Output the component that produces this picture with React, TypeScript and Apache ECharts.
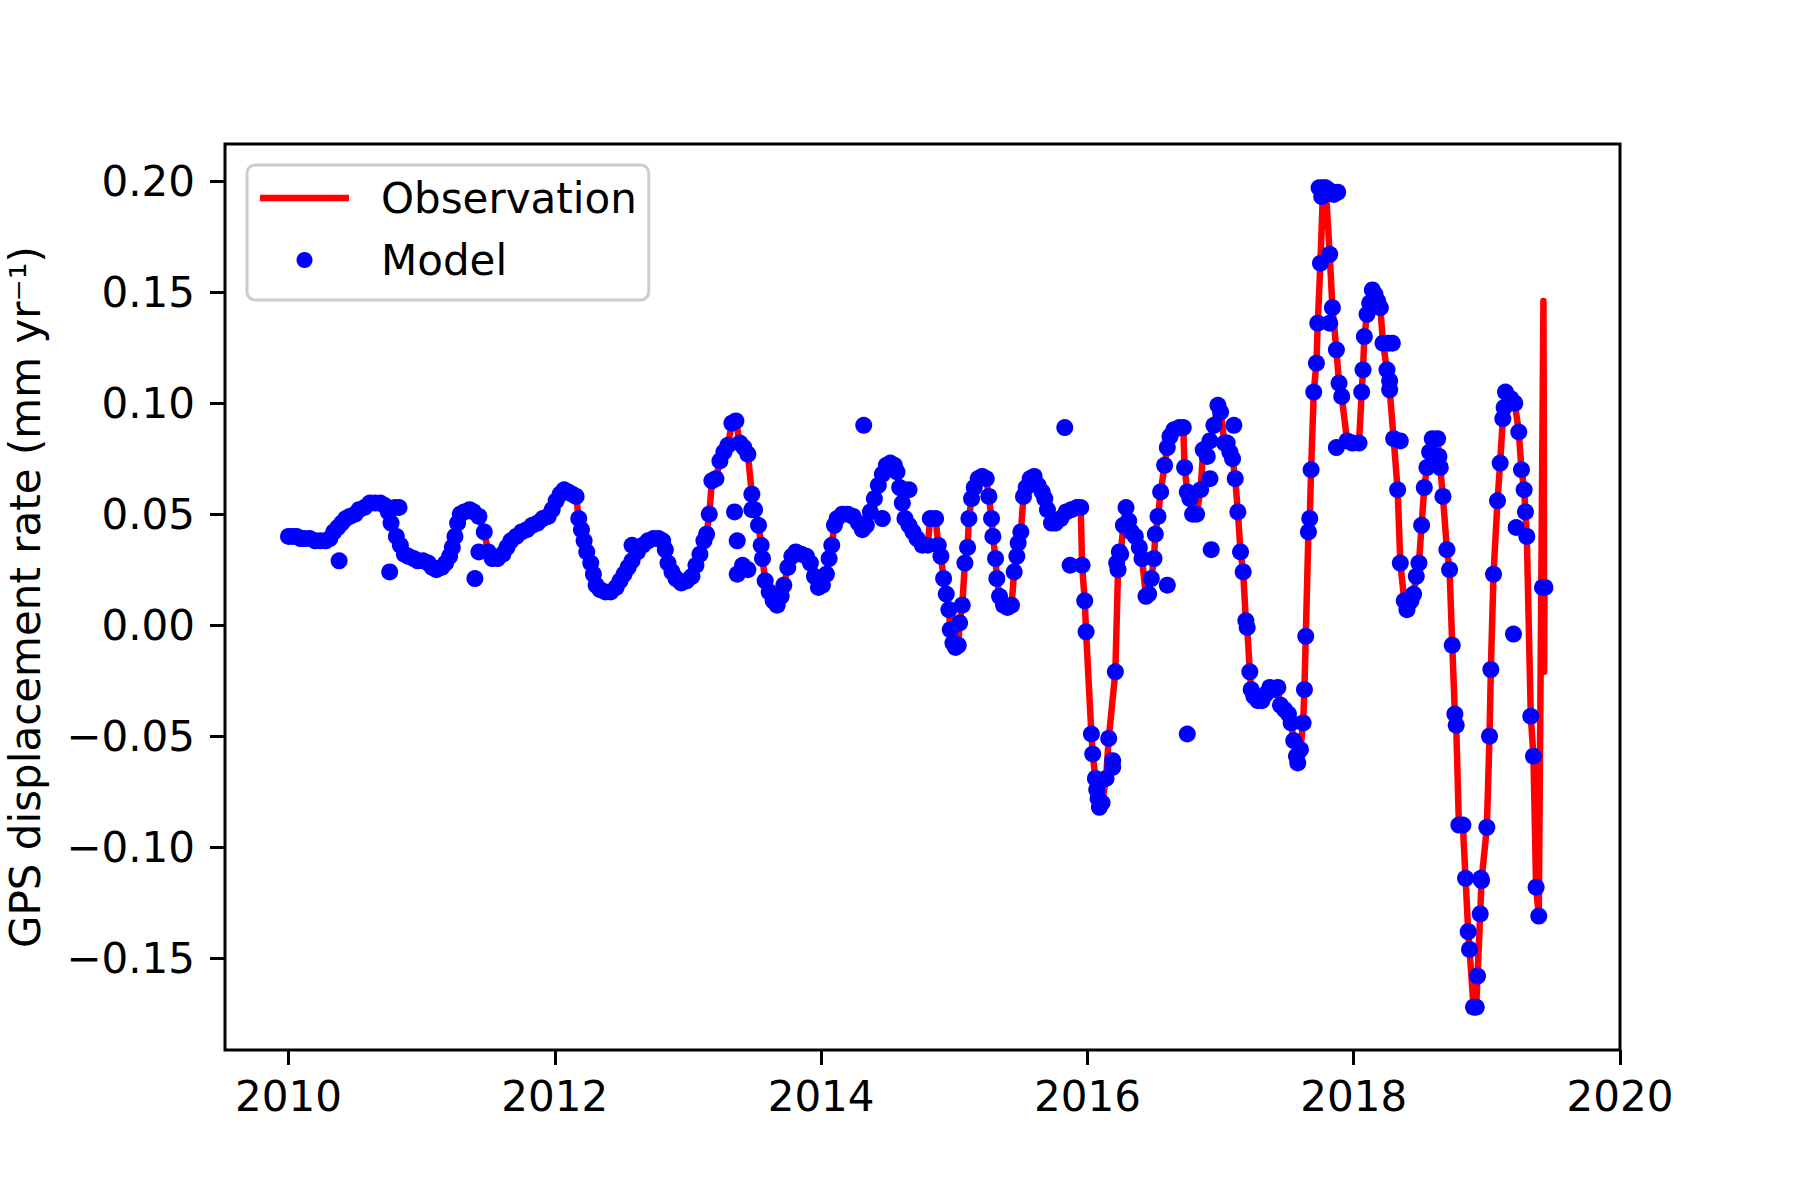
import React, { useEffect, useRef } from "react";
import * as echarts from "echarts";

// Points where the observation line and the model dots coincide: [decimal year, rate]
const shared2010 = [[2010.00,0.040],[2010.03,0.040],[2010.06,0.040],[2010.09,0.039],[2010.12,0.039],[2010.16,0.039],[2010.20,0.038],[2010.24,0.038],[2010.28,0.038],[2010.31,0.039],[2010.34,0.042],[2010.37,0.044],[2010.40,0.046],[2010.43,0.048],[2010.46,0.049],[2010.50,0.050],[2010.53,0.052],[2010.57,0.053],[2010.61,0.055],[2010.65,0.055],[2010.69,0.055],[2010.72,0.054],[2010.75,0.051],[2010.77,0.046],[2010.81,0.040],[2010.84,0.036],[2010.87,0.032],[2010.90,0.031],[2010.94,0.030],[2010.97,0.029]];
const shared2011 = [[2011.01,0.029],[2011.05,0.028],[2011.08,0.026],[2011.11,0.025],[2011.15,0.026],[2011.18,0.028],[2011.21,0.031],[2011.23,0.035],[2011.25,0.040],[2011.27,0.046],[2011.29,0.050],[2011.32,0.051],[2011.36,0.052],[2011.39,0.051],[2011.43,0.049],[2011.47,0.042],[2011.50,0.033],[2011.53,0.030],[2011.57,0.030],[2011.61,0.032],[2011.64,0.035],[2011.67,0.038],[2011.71,0.040],[2011.75,0.042],[2011.79,0.043],[2011.83,0.045],[2011.87,0.046],[2011.91,0.048],[2011.95,0.049],[2011.98,0.052]];
const shared2012 = [[2012.01,0.056],[2012.04,0.059],[2012.07,0.061],[2012.10,0.060],[2012.13,0.059],[2012.16,0.058],[2012.18,0.048],[2012.20,0.043],[2012.22,0.038],[2012.24,0.033],[2012.27,0.028],[2012.29,0.023],[2012.31,0.018],[2012.34,0.016],[2012.38,0.015],[2012.42,0.015],[2012.46,0.017],[2012.49,0.020],[2012.52,0.023],[2012.55,0.026],[2012.58,0.029],[2012.62,0.033],[2012.66,0.036],[2012.70,0.038],[2012.74,0.039],[2012.78,0.039],[2012.81,0.038],[2012.83,0.034],[2012.85,0.028],[2012.88,0.024],[2012.91,0.021],[2012.95,0.019],[2012.99,0.020]];
const shared2013 = [[2013.03,0.022],[2013.06,0.027],[2013.09,0.032],[2013.12,0.038],[2013.14,0.041],[2013.16,0.050],[2013.18,0.065],[2013.21,0.066],[2013.24,0.074],[2013.27,0.078],[2013.30,0.081],[2013.33,0.091],[2013.36,0.092],[2013.39,0.082],[2013.42,0.080],[2013.45,0.077],[2013.48,0.059],[2013.50,0.052],[2013.53,0.045],[2013.55,0.036],[2013.56,0.030],[2013.58,0.020],[2013.61,0.015],[2013.64,0.011],[2013.67,0.009],[2013.70,0.013],[2013.72,0.018],[2013.75,0.026],[2013.78,0.031],[2013.81,0.033],[2013.85,0.032],[2013.89,0.031],[2013.92,0.028],[2013.95,0.022],[2013.98,0.017]];
const shared2014 = [[2014.01,0.018],[2014.04,0.023],[2014.06,0.030],[2014.08,0.036],[2014.10,0.045],[2014.12,0.048],[2014.16,0.050],[2014.20,0.050],[2014.24,0.049],[2014.28,0.046],[2014.31,0.043],[2014.34,0.045],[2014.37,0.051],[2014.40,0.057],[2014.43,0.063],[2014.46,0.068],[2014.49,0.072],[2014.52,0.073],[2014.55,0.072],[2014.57,0.069],[2014.59,0.062],[2014.61,0.055],[2014.63,0.048],[2014.66,0.045],[2014.69,0.042],[2014.72,0.039],[2014.76,0.036],[2014.80,0.036],[2014.82,0.048],[2014.86,0.048],[2014.88,0.036],[2014.90,0.031],[2014.92,0.021],[2014.94,0.014],[2014.96,0.007],[2014.97,-0.002],[2014.99,-0.008]];
const shared2015 = [[2015.01,-0.010],[2015.03,-0.009],[2015.04,0.001],[2015.06,0.009],[2015.08,0.028],[2015.10,0.035],[2015.11,0.048],[2015.13,0.057],[2015.15,0.062],[2015.18,0.066],[2015.21,0.067],[2015.24,0.066],[2015.26,0.058],[2015.28,0.048],[2015.29,0.040],[2015.31,0.030],[2015.32,0.021],[2015.34,0.013],[2015.37,0.009],[2015.40,0.008],[2015.43,0.009],[2015.45,0.024],[2015.47,0.031],[2015.48,0.037],[2015.50,0.042],[2015.52,0.058],[2015.54,0.062],[2015.57,0.066],[2015.60,0.067],[2015.63,0.063],[2015.66,0.060],[2015.68,0.057],[2015.70,0.052],[2015.73,0.046],[2015.76,0.046],[2015.80,0.048],[2015.84,0.051],[2015.88,0.052],[2015.92,0.053],[2015.95,0.053],[2015.96,0.027],[2015.98,0.011],[2015.99,-0.003]];
const shared2016 = [[2016.03,-0.049],[2016.04,-0.058],[2016.06,-0.069],[2016.07,-0.074],[2016.08,-0.078],[2016.09,-0.082],[2016.11,-0.080],[2016.14,-0.069],[2016.16,-0.051],[2016.21,-0.021],[2016.23,0.025],[2016.25,0.032],[2016.27,0.045],[2016.29,0.053],[2016.31,0.047],[2016.33,0.042],[2016.36,0.040],[2016.39,0.035],[2016.41,0.030],[2016.44,0.013],[2016.46,0.014],[2016.48,0.021],[2016.50,0.030],[2016.51,0.041],[2016.53,0.049],[2016.55,0.060],[2016.58,0.072],[2016.60,0.080],[2016.62,0.085],[2016.65,0.088],[2016.69,0.089],[2016.72,0.089],[2016.73,0.071],[2016.75,0.060],[2016.77,0.057],[2016.79,0.050],[2016.82,0.050],[2016.85,0.061],[2016.87,0.079],[2016.90,0.076],[2016.92,0.083],[2016.95,0.090],[2016.98,0.099],[2017.00,0.096]];
const shared2017 = [[2017.03,0.082],[2017.05,0.082],[2017.07,0.078],[2017.09,0.075],[2017.11,0.066],[2017.13,0.051],[2017.15,0.033],[2017.17,0.024],[2017.19,0.002],[2017.20,-0.001],[2017.22,-0.021],[2017.23,-0.029],[2017.25,-0.032],[2017.28,-0.034],[2017.31,-0.034],[2017.34,-0.031],[2017.37,-0.028],[2017.40,-0.029],[2017.43,-0.028],[2017.45,-0.036],[2017.48,-0.038],[2017.51,-0.040],[2017.53,-0.044],[2017.55,-0.052],[2017.57,-0.059],[2017.58,-0.062],[2017.60,-0.056],[2017.62,-0.044],[2017.63,-0.029],[2017.64,-0.005],[2017.66,0.042],[2017.67,0.048],[2017.68,0.070],[2017.70,0.105],[2017.72,0.118],[2017.73,0.136],[2017.75,0.163],[2017.77,0.197],[2017.79,0.197],[2017.82,0.167],[2017.84,0.143],[2017.87,0.124],[2017.89,0.109],[2017.91,0.103],[2017.95,0.083],[2017.99,0.082]];
const shared2018 = [[2018.04,0.082],[2018.06,0.105],[2018.07,0.115],[2018.08,0.130],[2018.10,0.140],[2018.12,0.145],[2018.14,0.151],[2018.16,0.149],[2018.18,0.146],[2018.20,0.143],[2018.22,0.127],[2018.25,0.115],[2018.27,0.106],[2018.30,0.084],[2018.33,0.061],[2018.35,0.028],[2018.38,0.011],[2018.40,0.007],[2018.43,0.011],[2018.45,0.014],[2018.47,0.022],[2018.49,0.028],[2018.51,0.045],[2018.53,0.062],[2018.55,0.071],[2018.57,0.078],[2018.59,0.084],[2018.63,0.084],[2018.64,0.076],[2018.65,0.071],[2018.67,0.058],[2018.70,0.034],[2018.72,0.025],[2018.74,-0.009],[2018.76,-0.040],[2018.77,-0.045],[2018.79,-0.090],[2018.82,-0.090],[2018.84,-0.114],[2018.86,-0.138],[2018.87,-0.146],[2018.90,-0.172],[2018.92,-0.172],[2018.93,-0.158],[2018.95,-0.130],[2018.96,-0.115],[2019.00,-0.091]];
const shared2019 = [[2019.02,-0.050],[2019.03,-0.020],[2019.05,0.023],[2019.08,0.056],[2019.10,0.073],[2019.12,0.093],[2019.13,0.098],[2019.14,0.105],[2019.18,0.102],[2019.21,0.100],[2019.24,0.087],[2019.26,0.070],[2019.28,0.061],[2019.29,0.051],[2019.30,0.040],[2019.33,-0.041],[2019.35,-0.059],[2019.37,-0.118],[2019.39,-0.131]];

// Observation-only points at the end of the record
const observationTail = [[2019.425,0.146],[2019.428,0.089],[2019.430,-0.021],[2019.433,0.017]];

// Model dots that sit off the observation line
const modelOffLine = [[2010.38,0.029],[2010.76,0.024],[2010.80,0.053],[2010.83,0.053],[2011.40,0.021],[2011.43,0.033],[2012.58,0.036],[2013.35,0.051],[2013.37,0.038],[2013.37,0.023],[2013.41,0.027],[2013.45,0.025],[2013.48,0.052],[2014.32,0.090],[2014.46,0.048],[2014.62,0.061],[2014.66,0.061],[2015.83,0.089],[2015.87,0.027],[2016.19,-0.061],[2016.19,-0.064],[2016.22,0.028],[2016.24,0.033],[2016.60,0.018],[2016.75,-0.049],[2016.92,0.066],[2016.93,0.034],[2017.10,0.090],[2017.74,0.197],[2017.76,0.193],[2017.81,0.196],[2017.85,0.194],[2017.88,0.195],[2017.82,0.136],[2017.87,0.080],[2018.26,0.127],[2018.29,0.127],[2018.27,0.110],[2018.35,0.083],[2018.955,-0.114],[2019.20,-0.004],[2019.22,0.044],[2019.418,0.017],[2019.436,0.017]];

const xTicks = [2010, 2012, 2014, 2016, 2018, 2020];
const yTicks = [-0.15, -0.1, -0.05, 0, 0.05, 0.1, 0.15, 0.2];

const FONT = "DejaVu Sans";

export default function App() {
  const ref = useRef<HTMLDivElement>(null);
  useEffect(() => {
    document.body.style.margin = "0";
    if (!ref.current) return;
    const chart = echarts.init(ref.current, null, { renderer: "svg" });
    const shared = [
      ...shared2010, ...shared2011, ...shared2012, ...shared2013, ...shared2014,
      ...shared2015, ...shared2016, ...shared2017, ...shared2018, ...shared2019,
    ];
    const observation = [...shared, ...observationTail];
    const model = [...shared, ...modelOffLine];
    const axisText = { fontFamily: FONT, fontSize: 42, color: "#000" };
    const tick = { show: true, length: 15, inside: false, lineStyle: { color: "#000", width: 3 } };
    chart.setOption({
      animation: false,
      backgroundColor: "#fff",
      grid: {
        left: 225, top: 144, right: 180, bottom: 150,
        containLabel: false,
        outerBoundsMode: "none",
        show: true, borderColor: "#000", borderWidth: 3, backgroundColor: "transparent",
      },
      legend: {
        orient: "vertical",
        left: 247,
        top: 165,
        padding: [12, 12, 19, 13],
        itemGap: 20,
        itemWidth: 89,
        itemHeight: 16,
        borderColor: "#cccccc",
        borderWidth: 3,
        borderRadius: 8,
        backgroundColor: "rgba(255,255,255,0.8)",
        textStyle: { fontFamily: FONT, fontSize: 42, color: "#000", padding: [0, 0, 0, 27] },
        data: [
          { name: "Observation", icon: "path://M0 0H89V6.5H0Z", itemStyle: { color: "#ff0000" } },
          { name: "Model", icon: "circle" },
        ],
      },
      xAxis: {
        type: "value",
        min: 2009.523,
        max: 2020,
        splitLine: { show: false },
        axisLine: { show: false, onZero: false },
        axisTick: { ...tick, customValues: xTicks },
        axisLabel: {
          ...axisText, margin: 25, customValues: xTicks,
          formatter: (v: number) => String(Math.round(v)),
        },
      },
      yAxis: {
        type: "value",
        min: -0.1913,
        max: 0.2167,
        splitLine: { show: false },
        axisLine: { show: false, onZero: false },
        axisTick: { ...tick, customValues: yTicks },
        axisLabel: {
          ...axisText, margin: 30, customValues: yTicks,
          formatter: (v: number) => (v < -1e-9 ? "\u2212" : "") + Math.abs(v).toFixed(2),
        },
        name: "GPS displacement rate (mm yr\u207B\u00B9)",
        nameLocation: "middle",
        nameGap: 179,
        nameTextStyle: { ...axisText },
      },
      series: [
        {
          name: "Observation",
          type: "line",
          data: observation,
          symbol: "none",
          lineStyle: { color: "#ff0000", width: 6.5, join: "round" },
          itemStyle: { color: "#ff0000" },
          z: 2,
        },
        {
          name: "Model",
          type: "scatter",
          data: model,
          symbol: "circle",
          symbolSize: 17,
          itemStyle: { color: "#0000ff", opacity: 1 },
          z: 3,
        },
      ],
    });
    return () => chart.dispose();
  }, []);
  return (
    <div
      ref={ref}
      style={{ position: "fixed", left: 0, top: 0, width: 1800, height: 1200, background: "#fff" }}
    />
  );
}
